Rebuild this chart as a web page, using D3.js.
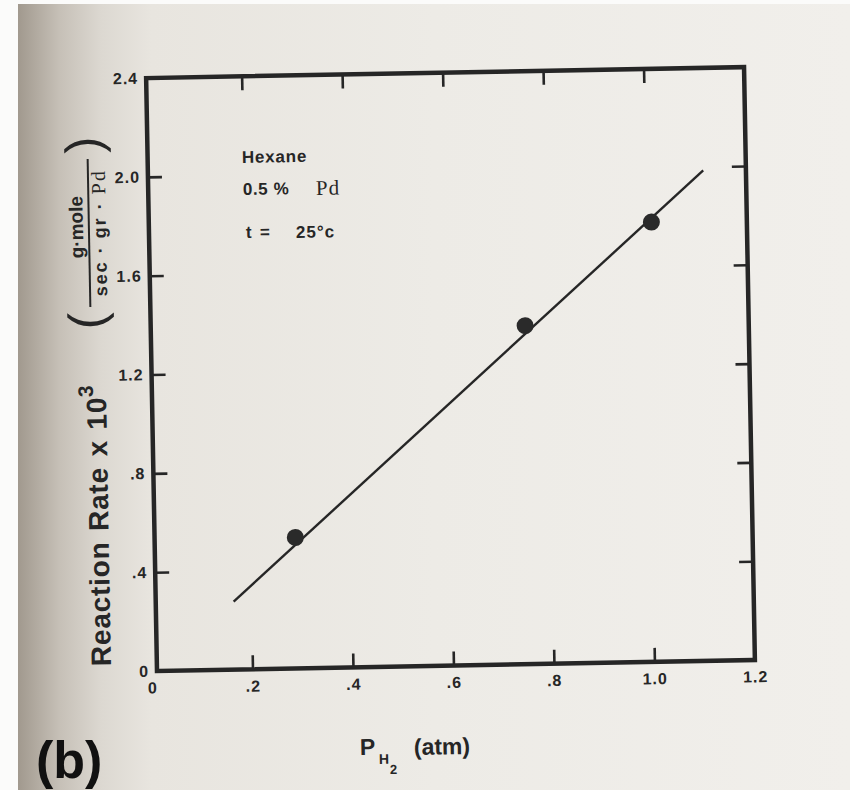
<!DOCTYPE html>
<html><head><meta charset="utf-8">
<script src="https://cdn.jsdelivr.net/npm/d3@7"></script>
<style>html,body{margin:0;padding:0;background:#fff;} svg{display:block;}</style>
</head><body><svg id="chart" width="850" height="790"></svg>
<script>
// ---- data ----
const pressure = [0.29, 0.755, 1.01];          // P_H2 (atm)
const rate = [0.53, 1.37, 1.78];               // reaction rate x 10^3
const fitPressure = [0.165, 1.115];            // fitted straight line ends
const fitRate = [0.275, 1.985];
const xTickValues = [0, 0.2, 0.4, 0.6, 0.8, 1.0, 1.2];
const xTickLabels = ["0", ".2", ".4", ".6", ".8", "1.0", "1.2"];
const yTickValues = [0, 0.4, 0.8, 1.2, 1.6, 2.0, 2.4];
const yTickLabels = ["0", ".4", ".8", "1.2", "1.6", "2.0", "2.4"];
const noteLines = ["Hexane", "0.5 %", "Pd", "t =", "25°c"];

// ---- layout ----
const W = 850, H = 790;
const PX = 157, PY = 671, ANG = -1.05;   // slight photo tilt
const frameLeft = 157;
const ink = "#262626";
const sans = "'Liberation Sans', Arial, Helvetica, sans-serif";
const serif = "'Liberation Serif', 'Times New Roman', serif";

function unrot(px, py) {
  const a = -ANG * Math.PI / 180, dx = px - PX, dy = py - PY;
  return [PX + dx * Math.cos(a) - dy * Math.sin(a), PY + dx * Math.sin(a) + dy * Math.cos(a)];
}

const svg = d3.select("#chart");
const defs = svg.append("defs");
const grad = defs.append("linearGradient").attr("id", "paper").attr("x1", 0).attr("x2", 1).attr("y1", 0).attr("y2", 0);
[[0, "#a1998e"], [0.05, "#c6c0b7"], [0.1, "#dcd8d1"], [0.16, "#e8e5df"], [0.5, "#edebe6"], [1, "#f1efeb"]]
  .forEach(([o, c]) => grad.append("stop").attr("offset", o).attr("stop-color", c));

svg.append("rect").attr("width", W).attr("height", H).attr("fill", "#fbfbfa");
svg.append("rect").attr("x", 18).attr("y", 4).attr("width", W - 18).attr("height", H - 4).attr("fill", "url(#paper)");

const x = d3.scaleLinear().domain([0, 1.2]).range([152, 755]);
const y = d3.scaleLinear().domain([0, 2.4]).range([671, 78]);

const g = svg.append("g").attr("transform", `rotate(${ANG},${PX},${PY})`);

function styleAxis(a) {
  a.select(".domain").remove();
  a.selectAll(".tick line").attr("stroke", ink).attr("stroke-width", 2.6);
  a.selectAll(".tick text").attr("fill", ink).style("font-family", sans)
    .style("font-size", "16px").style("font-weight", "bold").style("letter-spacing", "1px");
}
const xInner = xTickValues.slice(1, -1), yInner = yTickValues.slice(1, -1);

g.append("g").attr("transform", `translate(0,${y(0)})`)
  .call(d3.axisBottom(x).tickValues(xTickValues).tickFormat((d, i) => xTickLabels[i])
    .tickSizeInner(-14).tickSizeOuter(0).tickPadding(11))
  .call(styleAxis)
  .call(a => a.selectAll(".tick line").filter(d => d === 0 || d === 1.2).remove());

g.append("g").attr("transform", `translate(0,${y(2.4)})`)
  .call(d3.axisTop(x).tickValues(xInner).tickFormat(() => "").tickSizeInner(-14).tickSizeOuter(0))
  .call(styleAxis);

g.append("g").attr("transform", `translate(${frameLeft},0)`)
  .call(d3.axisLeft(y).tickValues(yTickValues).tickFormat((d, i) => yTickLabels[i])
    .tickSizeInner(-14).tickSizeOuter(0).tickPadding(8))
  .call(styleAxis)
  .call(a => a.selectAll(".tick line").filter(d => d === 0 || d === 2.4).remove());

g.append("g").attr("transform", `translate(${x(1.2)},0)`)
  .call(d3.axisRight(y).tickValues(yInner).tickFormat(() => "").tickSizeInner(-14).tickSizeOuter(0))
  .call(styleAxis);

// frame
g.append("rect").attr("x", frameLeft).attr("y", y(2.4))
  .attr("width", x(1.2) - frameLeft).attr("height", y(0) - y(2.4))
  .attr("fill", "none").attr("stroke", ink).attr("stroke-width", 4.5).attr("stroke-linejoin", "miter");

// fitted line
const fit = fitPressure.map((p, i) => [p, fitRate[i]]);
g.append("path").datum(fit)
  .attr("d", d3.line().x(d => x(d[0])).y(d => y(d[1])))
  .attr("fill", "none").attr("stroke", ink).attr("stroke-width", 2.4);

// data points
g.selectAll("circle.pt").data(pressure.map((p, i) => [p, rate[i]])).join("circle")
  .attr("class", "pt").attr("cx", d => x(d[0])).attr("cy", d => y(d[1])).attr("r", 8.5)
  .attr("fill", "#2a2a2a");

// annotations
function txt(parent, px, py, s, size, opts = {}) {
  const [ux, uy] = unrot(px, py);
  return parent.append("text").attr("x", ux).attr("y", uy).text(s)
    .attr("fill", ink).style("font-family", opts.family || sans)
    .style("font-size", size + "px").style("font-weight", opts.weight || "bold")
    .style("letter-spacing", (opts.ls || 0) + "px");
}
txt(g, 242, 163, noteLines[0], 17, {ls: 0.8});
txt(g, 243, 195, noteLines[1], 17, {ls: 0.6});
txt(g, 316, 195, noteLines[2], 21, {family: serif, weight: "normal", ls: 1.2});
txt(g, 246, 238, noteLines[3], 17, {ls: 1.8});
txt(g, 296, 238, noteLines[4], 17, {ls: 1});

// y axis title
{
  const [ux, uy] = unrot(111, 666);
  const t = g.append("text").attr("transform", `translate(${ux},${uy}) rotate(-90)`)
    .attr("fill", ink).style("font-family", sans).style("font-size", "28px")
    .style("font-weight", "bold").style("letter-spacing", "0.8px").style("word-spacing", "2px");
  t.append("tspan").text("Reaction Rate x 10");
  t.append("tspan").attr("dy", -13).style("font-size", "21px").text("3");
}
{
  const [ux, uy] = unrot(89, 233);
  const f = g.append("g").attr("transform", `translate(${ux},${uy}) rotate(-90)`);
  f.append("text").attr("x", 6).attr("y", -6).attr("text-anchor", "middle").attr("fill", ink)
    .style("font-family", sans).style("font-size", "19px").style("font-weight", "bold").text("g·mole");
  f.append("line").attr("x1", -74).attr("x2", 74).attr("y1", 0).attr("y2", 0)
    .attr("stroke", ink).attr("stroke-width", 2);
  const s = f.append("text").attr("x", 0).attr("y", 17).attr("text-anchor", "middle").attr("fill", ink)
    .style("font-family", sans).style("font-size", "18px").style("font-weight", "bold").style("letter-spacing", "2px");
  s.append("tspan").text("sec · gr · ");
  s.append("tspan").style("font-family", serif).style("font-weight", "normal").style("font-size", "20px").text("Pd");
  f.append("text").attr("x", -88).attr("y", 13).attr("text-anchor", "middle").attr("fill", ink)
    .style("font-family", sans).style("font-size", "50px").style("font-weight", "normal").text("(");
  f.append("text").attr("x", 88).attr("y", 13).attr("text-anchor", "middle").attr("fill", ink)
    .style("font-family", sans).style("font-size", "50px").style("font-weight", "normal").text(")");
}

// x axis title
txt(g, 360, 755, "P", 23);
txt(g, 379, 764, "H", 14);
txt(g, 390, 774, "2", 13);
txt(g, 414, 755, "(atm)", 23);

// panel label
svg.append("text").attr("x", 36).attr("y", 778).text("(b)")
  .attr("fill", "#111").style("font-family", sans).style("font-size", "52px").style("font-weight", "bold");
</script></body></html>
